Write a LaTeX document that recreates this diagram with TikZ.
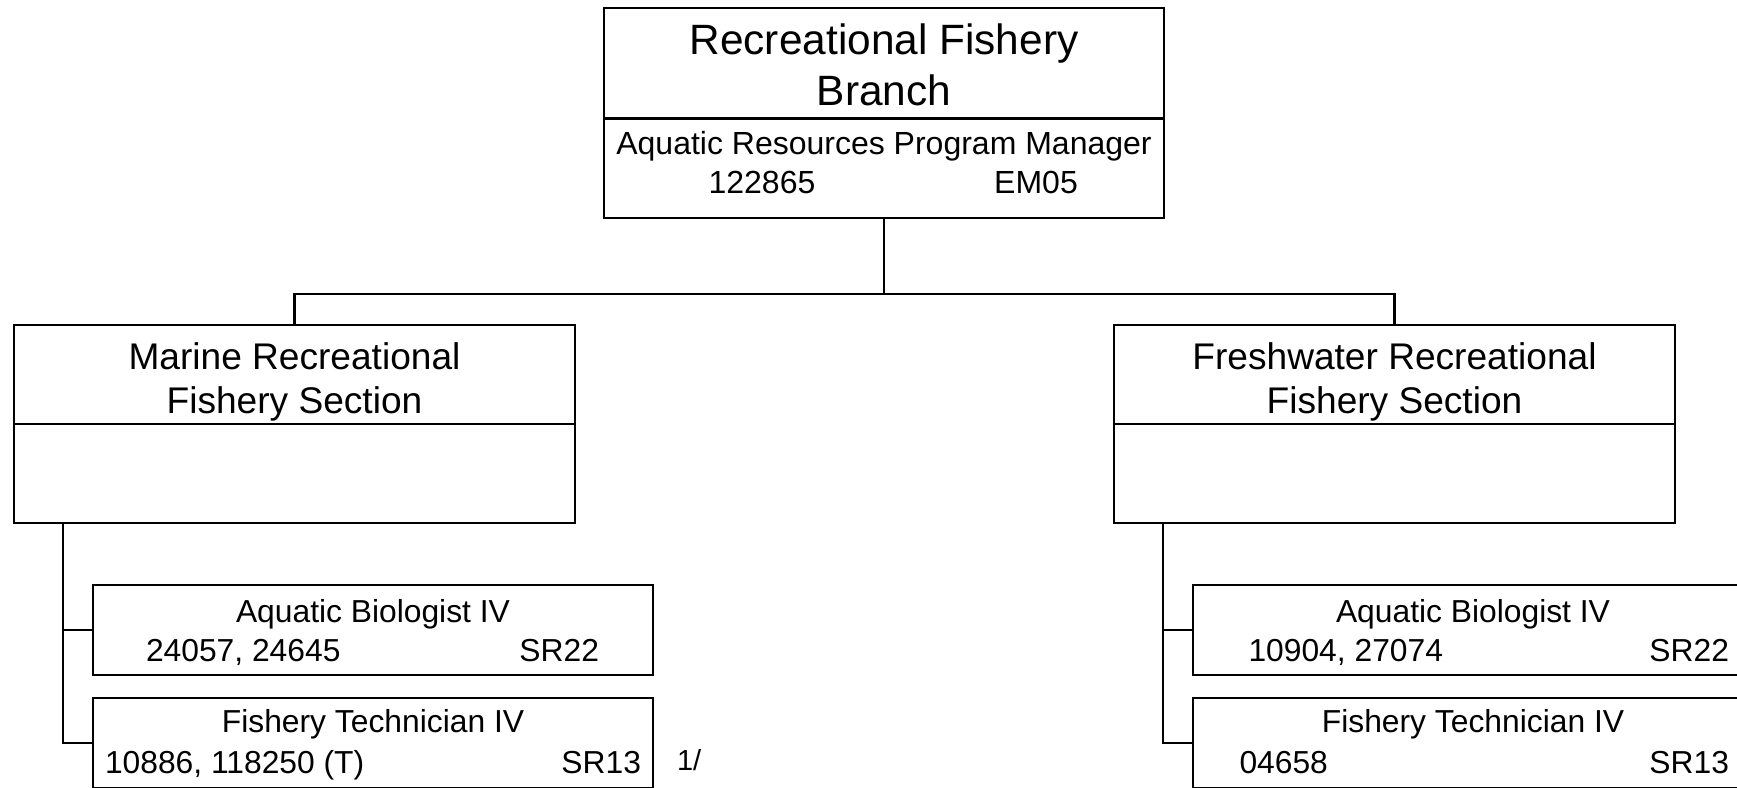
\documentclass[tikz,border=0pt]{standalone}
\usepackage{fontspec}
\setmainfont{Liberation Sans}
\newcommand\fsz[1]{\fontsize{#1}{#1}\selectfont}
\begin{document}
\begin{tikzpicture}[x=1pt,y=-1pt, line width=2.2pt,
  box/.style={draw, inner sep=0pt, outer sep=0pt, anchor=north west},
  txt/.style={inner sep=0pt, outer sep=0pt},
  ttl/.style={txt, anchor=base, font=\fsz{42.4}},
  sec/.style={txt, anchor=base, font=\fsz{37.1}},
  lbl/.style={txt, font=\fsz{31.8}},
]
\useasboundingbox (0,0) rectangle (1737,787);
\clip (0,0) rectangle (1737,787);

% boxes
\node[box, minimum width=560pt, minimum height=210pt] (top) at (604,8) {};
\node[box, minimum width=561pt, minimum height=198pt] (marine) at (14,325) {};
\node[box, minimum width=561pt, minimum height=198pt] (fresh) at (1114,325) {};
\node[box, minimum width=560pt, minimum height=90pt] (lb1) at (93,585) {};
\node[box, minimum width=560pt, minimum height=90pt] (lb2) at (93,698) {};
\node[box, minimum width=560pt, minimum height=90pt] (rb1) at (1193,585) {};
\node[box, minimum width=560pt, minimum height=90pt] (rb2) at (1193,698) {};

% dividers
\draw ([yshift=-110.5pt]top.north west) -- ([yshift=-110.5pt]top.north east);
\draw ([yshift=-99pt]marine.north west) -- ([yshift=-99pt]marine.north east);
\draw ([yshift=-99pt]fresh.north west) -- ([yshift=-99pt]fresh.north east);

% connectors
\coordinate (j) at (884,293.6);
\draw (top.south) -- (j);
\draw (marine.north) |- (j) -| (fresh.north);
\coordinate (ml) at (63,523);
\coordinate (fl) at (1163,523);
\draw (ml) |- (lb1.west);
\draw (ml) |- (lb2.west);
\draw (fl) |- (rb1.west);
\draw (fl) |- (rb2.west);

% top texts
\node[ttl] (t1) at (884,54) {Recreational Fishery};
\node[ttl] (t2) at (884,105) {Branch};
\node[txt, anchor=base, font=\fsz{32}] (t3) at (884,154) {Aquatic Resources Program Manager};
\node[txt, anchor=base, font=\fsz{32}] (t4) at (762,193) {122865};
\node[txt, anchor=base, font=\fsz{32}] (t5) at (1036,193) {EM05};

% section texts
\node[sec] (m1) at (294.5,369) {Marine Recreational};
\node[sec] (m2) at (294.5,413) {Fishery Section};
\node[sec] (f1) at (1394.5,369) {Freshwater Recreational};
\node[sec] (f2) at (1394.5,413) {Fishery Section};

% left position boxes
\node[lbl, anchor=base] (a1) at (373,622) {Aquatic Biologist IV};
\node[lbl, anchor=base west] (a2) at (146,661) {24057, 24645};
\node[lbl, anchor=base east] (a3) at (599,661) {SR22};
\node[lbl, anchor=base] (b1) at (373,732) {Fishery Technician IV};
\node[lbl, anchor=base west] (b2) at (105,773) {10886, 118250 (T)};
\node[lbl, anchor=base east] (b3) at (641,773) {SR13};
\node[txt, anchor=base west, font=\fsz{29}] (note) at (677,770) {1/};

% right position boxes
\node[lbl, anchor=base] (c1) at (1473,622) {Aquatic Biologist IV};
\node[lbl, anchor=base west] (c2) at (1248.5,661) {10904, 27074};
\node[lbl, anchor=base east] (c3) at (1729,661) {SR22};
\node[lbl, anchor=base] (d1) at (1473,732) {Fishery Technician IV};
\node[lbl, anchor=base west] (d2) at (1239.5,773) {04658};
\node[lbl, anchor=base east] (d3) at (1729,773) {SR13};
\end{tikzpicture}
\end{document}
